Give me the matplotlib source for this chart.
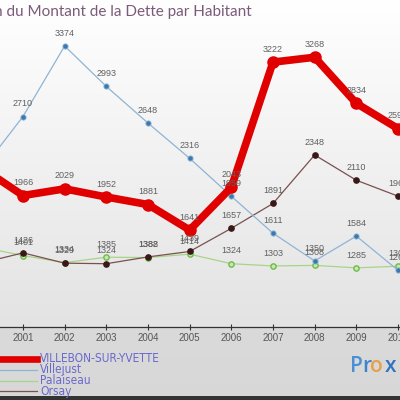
import matplotlib
matplotlib.use("Agg")
import matplotlib.pyplot as plt
import numpy as np
from matplotlib.lines import Line2D

years = [2000, 2001, 2002, 2003, 2004, 2005, 2006, 2007, 2008, 2009, 2010]
villebon = [2230, 1966, 2029, 1952, 1881, 1641, 2043, 3222, 3268, 2834, 2596]
villejust = [2200, 2710, 3374, 2993, 2648, 2316, 1959, 1611, 1350, 1584, 1262]
palaiseau = [1480, 1401, 1334, 1385, 1382, 1414, 1324, 1303, 1308, 1285, 1300]
orsay = [1330, 1426, 1329, 1324, 1388, 1439, 1657, 1891, 2348, 2110, 1960]
names = ["VILLEBON-SUR-YVETTE", "Villejust", "Palaiseau", "Orsay"]
title = "Evolution du Montant de la Dette par Habitant"

fig = plt.figure(figsize=(4, 4), dpi=100)

# background gradient
bg = fig.add_axes([0, 0, 1, 1], zorder=-10)
bg.set_axis_off()
h = 400
col = np.ones((h, 1, 3))
for i in range(h):
    if i < 327:
        v = 1.0 - 0.11 * (i / 327.0)
    else:
        v = 0.855 - 0.01 * ((i - 327) / 70.0)
    col[i, 0, :] = v
col[396:, 0, :] = 0.2
bg.imshow(col, aspect="auto", extent=[0, 1, 0, 1], origin="upper")
bg.set_xlim(0, 1)
bg.set_ylim(0, 1)

ax = fig.add_axes([0, 1 - 327 / 400, 1, 327 / 400])
ax.patch.set_alpha(0)
for s in ["top", "left", "right"]:
    ax.spines[s].set_visible(False)
ax.spines["bottom"].set_color("#333333")
ax.spines["bottom"].set_linewidth(0.9)
ax.set_yticks([])
ax.set_xticks(years)
ax.set_xticklabels([str(y) for y in years], fontsize=7, color="#555555", family="Liberation Sans")
ax.tick_params(axis="x", direction="inout", length=5, width=0.8, color="#333333", pad=2)

styles = [
    dict(color="#e00000", lw=5.5, marker="o", ms=8, mfc="#e00000", mec="#e00000", zorder=5),
    dict(color="#8fb4d4", lw=0.9, marker="o", ms=3.8, mfc="#3a78b0", mec="#8fb4d4", mew=0.6, zorder=4),
    dict(color="#a8d488", lw=0.9, marker="o", ms=3.8, mfc="#c8e8b0", mec="#6cbc48", mew=1.0, zorder=3),
    dict(color="#7a5050", lw=0.9, marker="o", ms=3.8, mfc="#3a1818", mec="#3a1818", zorder=3),
]
series = [villebon, villejust, palaiseau, orsay]
for vals, st, nm in zip(series, styles, names):
    ax.plot(years, vals, label=nm, **st)
    for x, v in zip(years, vals):
        ax.annotate(str(v), (x, v), xytext=(0, 6), textcoords="offset points",
                    ha="center", va="bottom", fontsize=6.5, color="#606060",
                    family="Liberation Sans", zorder=6, annotation_clip=False)

ax.set_xlim(2000.448, 2010.048)
ax.set_ylim(728, 3807)

fig.text(252 / 400, 1 - 12 / 400, title, ha="right", va="center", fontsize=11,
         color="#7b5a7a", family="Lato")

# legend (manual)
ys = [359, 370, 381, 391]
lws = [4.8, 0.9, 0.9, 0.9]
for nm, st, y, lw in zip(names, styles, ys, lws):
    fy = 1 - y / 400
    fig.add_artist(Line2D([0, 37 / 400], [fy, fy], color=st["color"], lw=lw,
                          transform=fig.transFigure))
    fig.text(40 / 400, fy, nm, ha="left", va="center", fontsize=8.6,
             color="#6a6acc", family="DejaVu Sans", fontstretch="condensed")

# logo
letters = [("P", "#4a8ed4", 350), ("r", "#3a86c8", 362), ("o", "#e8a048", 370), ("x", "#3272c0", 385)]
for ch, c, x in letters:
    fig.text(x / 400, 1 - 367 / 400, ch, ha="left", va="center", fontsize=15,
             color=c, family="Open Sans", weight="semibold")

fig.savefig("out.png", dpi=100)
